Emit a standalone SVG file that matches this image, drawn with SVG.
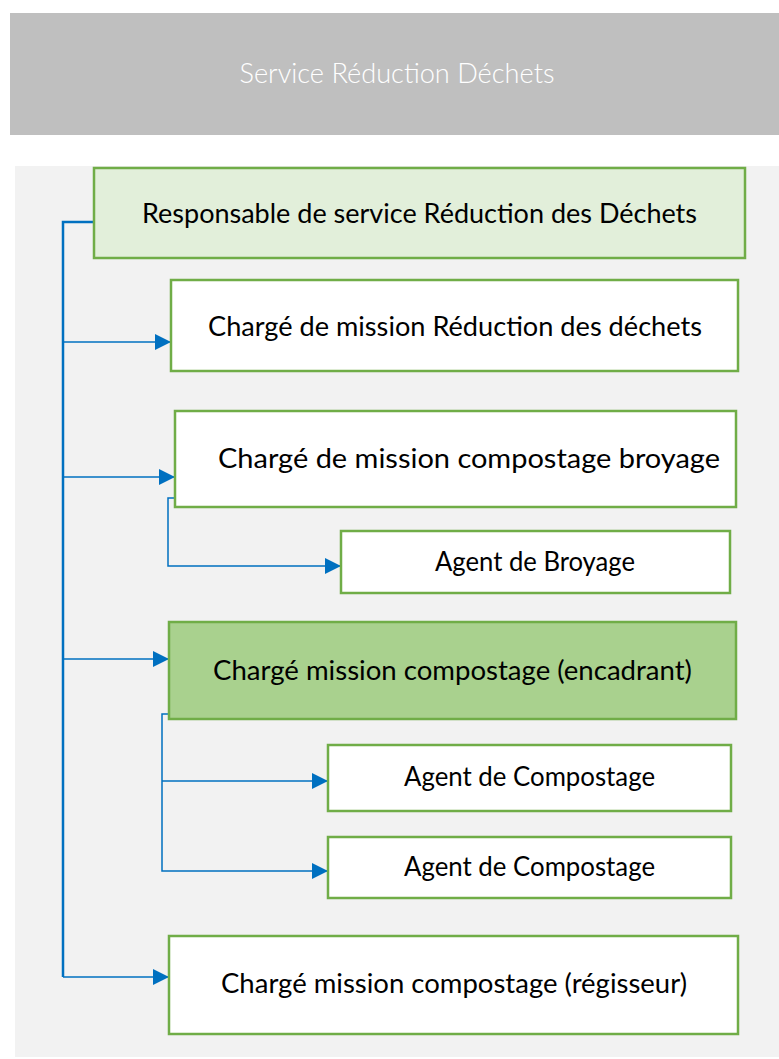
<svg xmlns="http://www.w3.org/2000/svg" width="779" height="1059" viewBox="0 0 779 1059">
<style>
.box{stroke:#70AD47;stroke-width:2.5}
.w{fill:#FFFFFF}
.lbl{font-family:Lato,"Liberation Sans",sans-serif;font-size:26px;fill:#000000;text-anchor:middle}
.con{fill:none;stroke:#0070C0;stroke-width:1.5}
.trunk{fill:none;stroke:#0070C0;stroke-width:2.5}
</style>
<defs>
<marker id="arr" markerUnits="userSpaceOnUse" markerWidth="17" markerHeight="16" refX="16" refY="8" orient="auto">
<path d="M0,0 L16,8 L0,16 Z" fill="#0070C0"/>
</marker>
</defs>
<rect x="0" y="0" width="779" height="1059" fill="#FFFFFF"/>
<g id="header">
<rect x="10" y="13" width="769" height="122" fill="#BFBFBF"/>
<text x="397" y="83" style="font-family:Lato,'Liberation Sans',sans-serif;font-size:27px;font-weight:300;fill:#FFFFFF;text-anchor:middle" textLength="315" lengthAdjust="spacingAndGlyphs">Service Réduction Déchets</text>
</g>
<rect id="panel" x="15" y="166" width="764" height="891" fill="#F2F2F2"/>
<g id="connectors">
<path class="trunk" d="M94,222 H63 V977"/>
<path class="con" d="M63,342 H171" marker-end="url(#arr)"/>
<path class="con" d="M63,477 H175" marker-end="url(#arr)"/>
<path class="con" d="M63,659 H169" marker-end="url(#arr)"/>
<path class="con" d="M63,977 H169" marker-end="url(#arr)"/>
<path class="con" d="M174,498 H168 V566 H341" marker-end="url(#arr)"/>
<path class="con" d="M168,714 H162 V871 H328" marker-end="url(#arr)"/>
<path class="con" d="M162,781 H328" marker-end="url(#arr)"/>
</g>
<g id="n1">
<rect class="box" x="94" y="168" width="651" height="90" fill="#E2EFDA"/>
<text class="lbl" x="419.5" y="223" textLength="555" lengthAdjust="spacingAndGlyphs">Responsable de service Réduction des Déchets</text>
</g>
<g id="n2">
<rect class="box w" x="171" y="280" width="567" height="91"/>
<text class="lbl" x="455" y="336" textLength="494" lengthAdjust="spacingAndGlyphs">Chargé de mission Réduction des déchets</text>
</g>
<g id="n3">
<rect class="box w" x="175" y="411" width="561" height="96"/>
<text class="lbl" x="469" y="468" textLength="502" lengthAdjust="spacingAndGlyphs">Chargé de mission compostage broyage</text>
</g>
<g id="n4">
<rect class="box w" x="341" y="531" width="389" height="62"/>
<text class="lbl" x="535" y="571" textLength="200" lengthAdjust="spacingAndGlyphs">Agent de Broyage</text>
</g>
<g id="n5">
<rect class="box" x="169" y="622" width="567" height="97" fill="#A9D18E"/>
<text class="lbl" x="452.5" y="680" textLength="479" lengthAdjust="spacingAndGlyphs">Chargé mission compostage (encadrant)</text>
</g>
<g id="n6">
<rect class="box w" x="328" y="745" width="403" height="66"/>
<text class="lbl" x="529.5" y="786" textLength="251" lengthAdjust="spacingAndGlyphs">Agent de Compostage</text>
</g>
<g id="n7">
<rect class="box w" x="328" y="837" width="403" height="61"/>
<text class="lbl" x="529.5" y="876" textLength="251" lengthAdjust="spacingAndGlyphs">Agent de Compostage</text>
</g>
<g id="n8">
<rect class="box w" x="169" y="936" width="569" height="98"/>
<text class="lbl" x="454" y="993" textLength="466" lengthAdjust="spacingAndGlyphs">Chargé mission compostage (régisseur)</text>
</g>
</svg>
